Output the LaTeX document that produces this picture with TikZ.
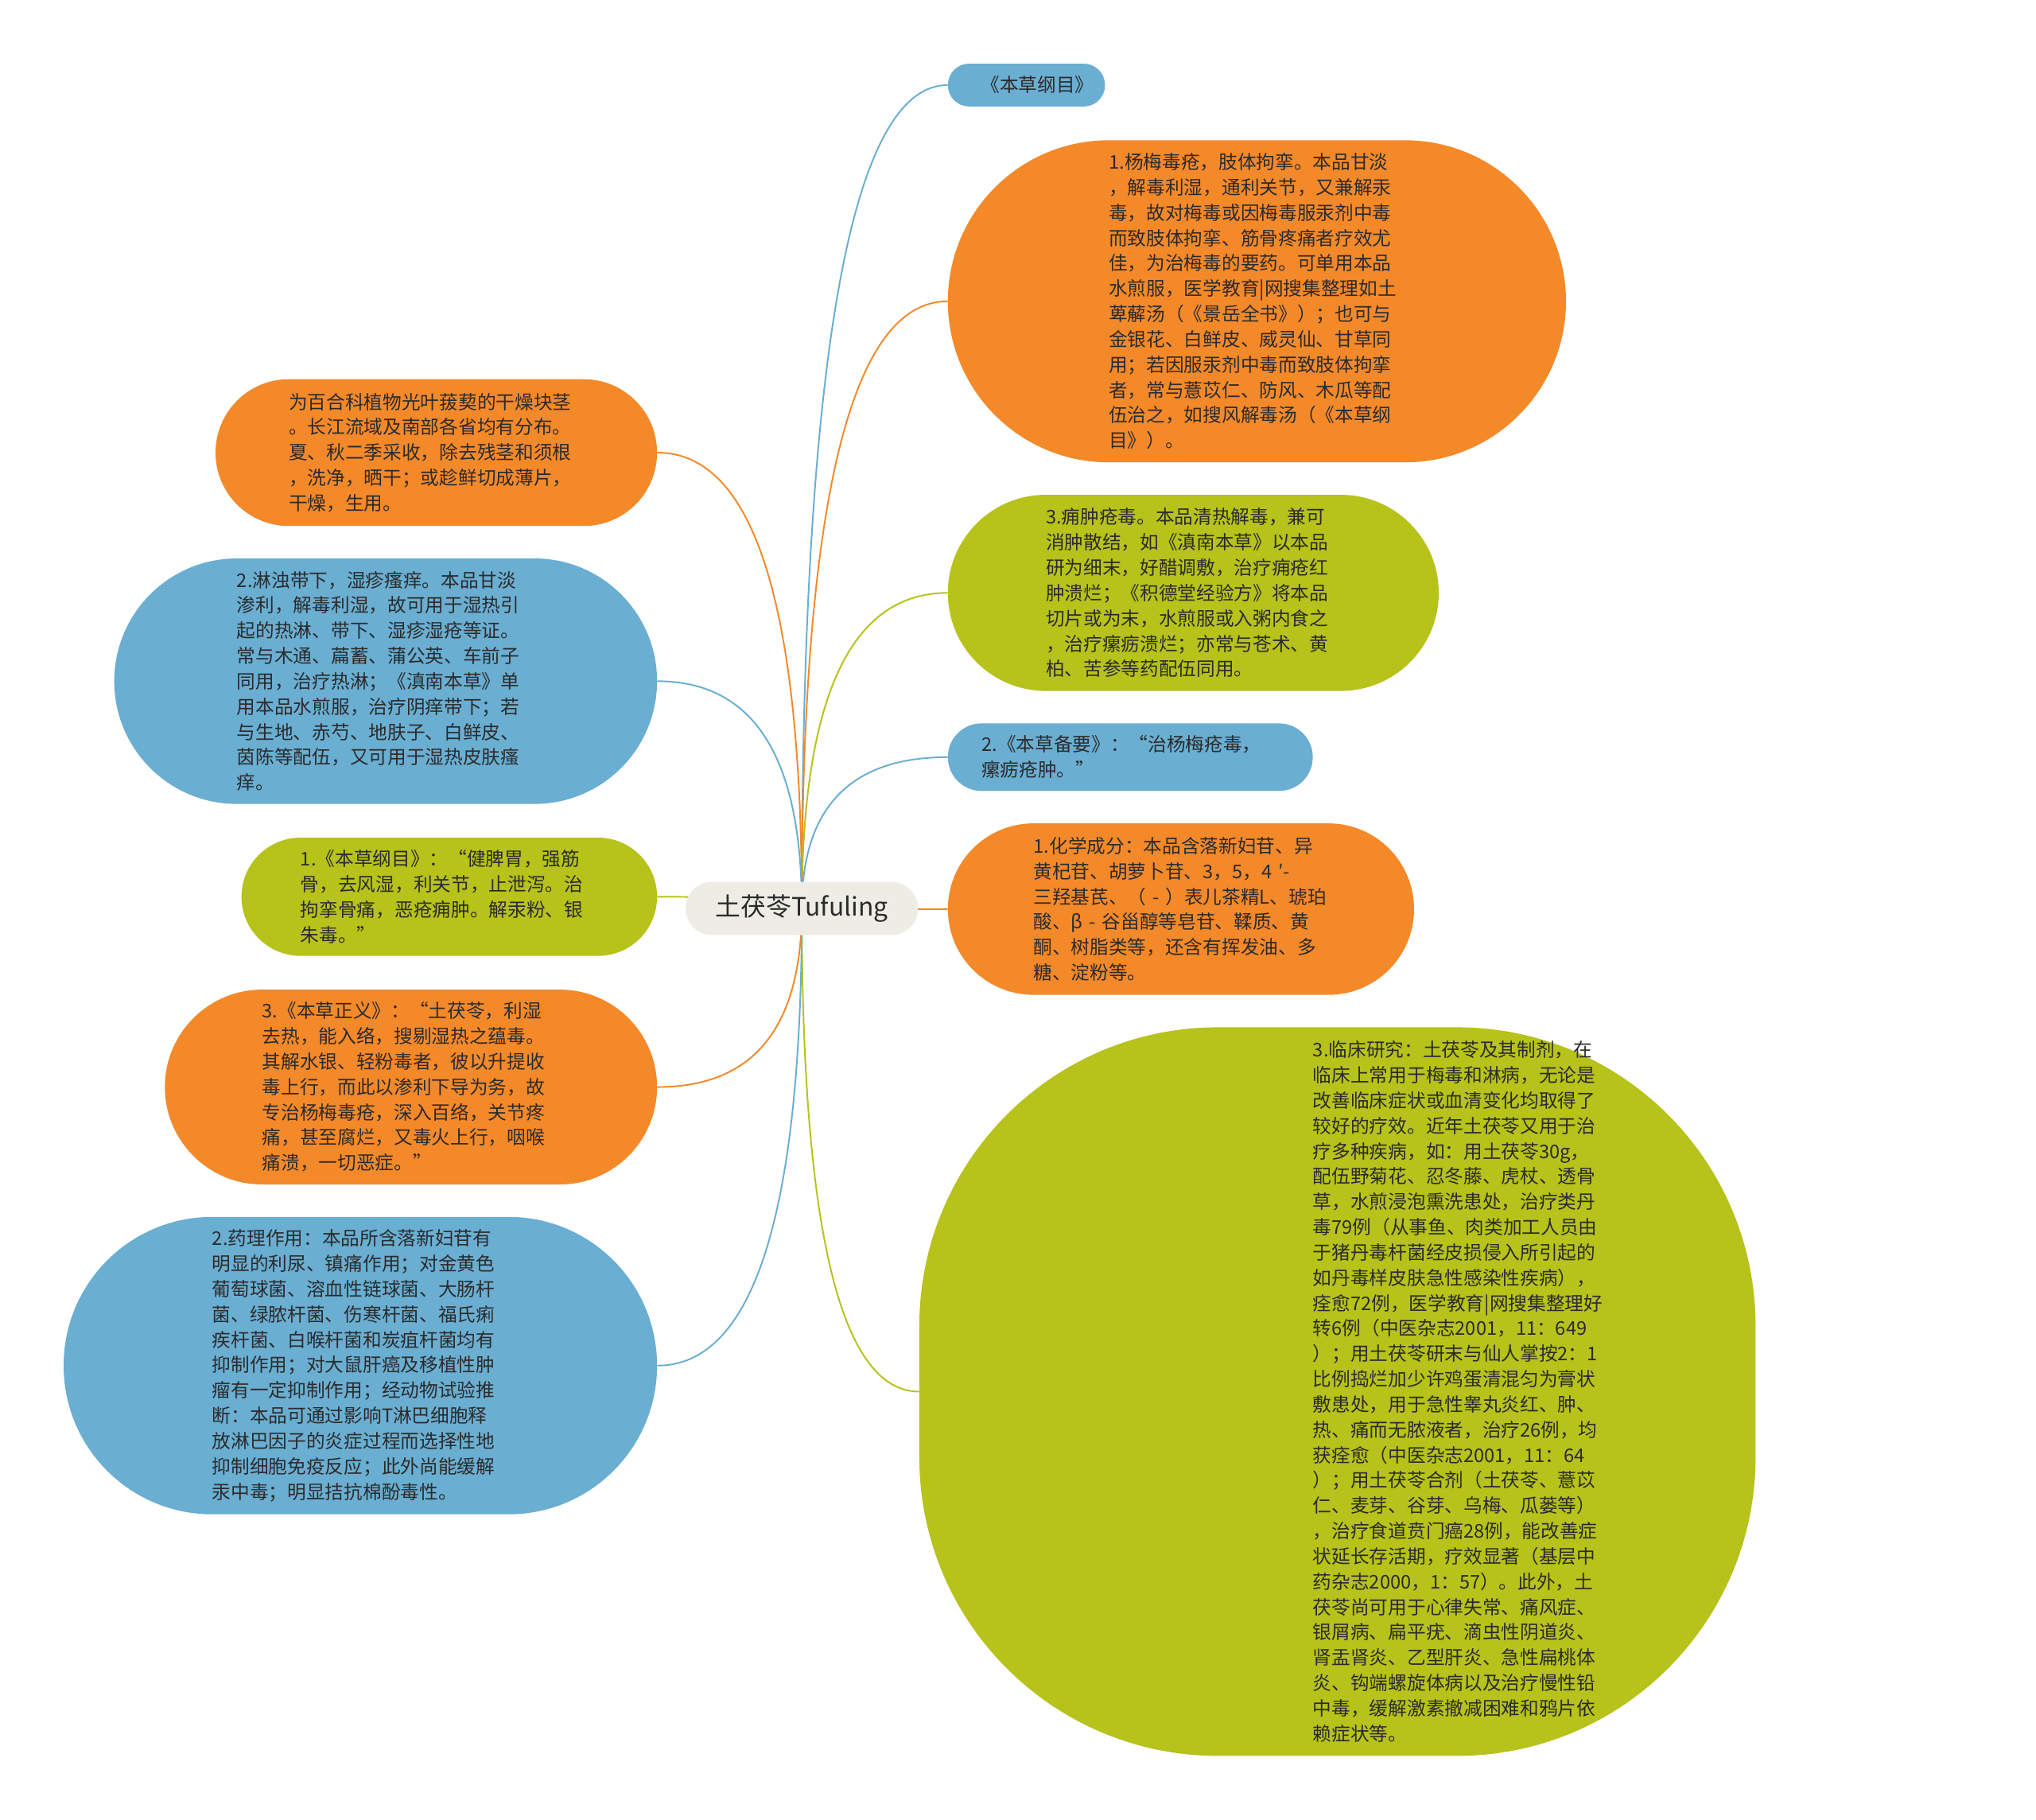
\documentclass[tikz,border=0pt]{standalone}
\usepackage{fontspec}
\setmainfont{Noto Sans CJK SC}
\usetikzlibrary{backgrounds,calc}
\definecolor{morange}{HTML}{F4892A}
\definecolor{mblue}{HTML}{6AAED2}
\definecolor{mgreen}{HTML}{B7C21A}
\definecolor{mroot}{HTML}{EEEDE5}
\definecolor{mtext}{HTML}{2B2B2B}
\begin{document}
\begin{tikzpicture}[x=1pt, y=-1pt, text=mtext,
    font=\fontsize{14.5}{19.5}\selectfont,
    bubble/.style n args={4}{shape=rectangle, fill=#1, draw=none, inner sep=0pt,
      align=left, minimum width=#2pt, minimum height=#3pt, text width=#4pt,
      rounded corners=#3pt/2-0.1pt},
    link/.style={draw=#1, line width=1.2pt,
      to path={.. controls ($(\tikztostart)!.667!(\tikztostart |- \tikztotarget)$)
        and ($(\tikztotarget)!.667!(\tikztostart |- \tikztotarget)$) .. (\tikztotarget)}}]

  % root
  \node [shape=rectangle, fill=mroot, inner sep=0pt, minimum width=179pt, minimum height=41pt,
         rounded corners=20.4pt, font=\fontsize{19.5}{24}\selectfont] (root) at (617.5,699.5) {土茯苓Tufuling};

  % right side
  \node [bubble={mblue}{121}{33}{70}, align=center] (kgm) at (790.5,65.5) {《本草纲目》};
  \node [bubble={morange}{476}{248}{228}] (ymdc) at (968,232) {1.杨梅毒疮，肢体拘挛。本品甘淡\\，解毒利湿，通利关节，又兼解汞\\毒，故对梅毒或因梅毒服汞剂中毒\\而致肢体拘挛、筋骨疼痛者疗效尤\\佳，为治梅毒的要药。可单用本品\\水煎服，医学教育|网搜集整理如土\\萆薢汤（《景岳全书》）；也可与\\金银花、白鲜皮、威灵仙、甘草同\\用；若因服汞剂中毒而致肢体拘挛\\者，常与薏苡仁、防风、木瓜等配\\伍治之，如搜风解毒汤（《本草纲\\目》）。};
  \node [bubble={mgreen}{378}{151}{227}] (yzcd) at (919,456.5) {3.痈肿疮毒。本品清热解毒，兼可\\消肿散结，如《滇南本草》以本品\\研为细末，好醋调敷，治疗痈疮红\\肿溃烂；《积德堂经验方》将本品\\切片或为末，水煎服或入粥内食之\\，治疗瘰疬溃烂；亦常与苍术、黄\\柏、苦参等药配伍同用。};
  \node [bubble={mblue}{281}{52}{229}] (bcby) at (870.5,583) {2.《本草备要》：“治杨梅疮毒，\\瘰疬疮肿。”};
  \node [bubble={morange}{359}{132}{227}] (hxcf) at (909.5,700) {1.化学成分：本品含落新妇苷、异\\黄杞苷、胡萝卜苷、3，5，4 ′-\\三羟基芪、（ - ）表儿茶精L、琥珀\\酸、β - 谷甾醇等皂苷、鞣质、黄\\酮、树脂类等，还含有挥发油、多\\糖、淀粉等。};
  \node [bubble={mgreen}{644}{561}{0}, rounded corners=230pt] (lcyj) at (1030,1071.5) {};
  \node [align=left, inner sep=0pt, text width=228pt, anchor=west] (lcyjtxt) at (1011,1071.5) {3.临床研究：土茯苓及其制剂，在\\临床上常用于梅毒和淋病，无论是\\改善临床症状或血清变化均取得了\\较好的疗效。近年土茯苓又用于治\\疗多种疾病，如：用土茯苓30g，\\配伍野菊花、忍冬藤、虎杖、透骨\\草，水煎浸泡熏洗患处，治疗类丹\\毒79例（从事鱼、肉类加工人员由\\于猪丹毒杆菌经皮损侵入所引起的\\如丹毒样皮肤急性感染性疾病），\\痊愈72例，医学教育|网搜集整理好\\转6例（中医杂志2001，11：649\\）；用土茯苓研末与仙人掌按2：1\\比例捣烂加少许鸡蛋清混匀为膏状\\敷患处，用于急性睾丸炎红、肿、\\热、痛而无脓液者，治疗26例，均\\获痊愈（中医杂志2001，11：64\\）；用土茯苓合剂（土茯苓、薏苡\\仁、麦芽、谷芽、乌梅、瓜蒌等）\\，治疗食道贲门癌28例，能改善症\\状延长存活期，疗效显著（基层中\\药杂志2000，1：57）。此外，土\\茯苓尚可用于心律失常、痛风症、\\银屑病、扁平疣、滴虫性阴道炎、\\肾盂肾炎、乙型肝炎、急性扁桃体\\炎、钩端螺旋体病以及治疗慢性铅\\中毒，缓解激素撤减困难和鸦片依\\赖症状等。};

  % left side
  \node [bubble={morange}{340}{113}{227}] (bhk) at (336,348.5) {为百合科植物光叶菝葜的干燥块茎\\。长江流域及南部各省均有分布。\\夏、秋二季采收，除去残茎和须根\\，洗净，晒干；或趁鲜切成薄片，\\干燥，生用。};
  \node [bubble={mblue}{418}{189}{229}] (lzdx) at (297,524.5) {2.淋浊带下，湿疹瘙痒。本品甘淡\\渗利，解毒利湿，故可用于湿热引\\起的热淋、带下、湿疹湿疮等证。\\常与木通、萹蓄、蒲公英、车前子\\同用，治疗热淋；《滇南本草》单\\用本品水煎服，治疗阴痒带下；若\\与生地、赤芍、地肤子、白鲜皮、\\茵陈等配伍，又可用于湿热皮肤瘙\\痒。};
  \node [bubble={mgreen}{320}{91}{229}] (kgmb) at (346,690.5) {1.《本草纲目》：“健脾胃，强筋\\骨，去风湿，利关节，止泄泻。治\\拘挛骨痛，恶疮痈肿。解汞粉、银\\朱毒。”};
  \node [bubble={morange}{379}{150}{229}] (bczy) at (316.5,837) {3.《本草正义》：“土茯苓，利湿\\去热，能入络，搜剔湿热之蕴毒。\\其解水银、轻粉毒者，彼以升提收\\毒上行，而此以渗利下导为务，故\\专治杨梅毒疮，深入百络，关节疼\\痛，甚至腐烂，又毒火上行，咽喉\\痛溃，一切恶症。”};
  \node [bubble={mblue}{457}{229}{228}] (ylzy) at (277.5,1051.5) {2.药理作用：本品所含落新妇苷有\\明显的利尿、镇痛作用；对金黄色\\葡萄球菌、溶血性链球菌、大肠杆\\菌、绿脓杆菌、伤寒杆菌、福氏痢\\疾杆菌、白喉杆菌和炭疽杆菌均有\\抑制作用；对大鼠肝癌及移植性肿\\瘤有一定抑制作用；经动物试验推\\断：本品可通过影响T淋巴细胞释\\放淋巴因子的炎症过程而选择性地\\抑制细胞免疫反应；此外尚能缓解\\汞中毒；明显拮抗棉酚毒性。};

  \begin{scope}[on background layer]
    \path [use as bounding box, fill=white] (0,0) rectangle (1568,1401);
    \draw [link=mblue] (root.center) to (kgm.west);
    \draw [link=morange] (root.center) to (ymdc.west);
    \draw [link=mgreen] (root.center) to (yzcd.west);
    \draw [link=mblue] (root.center) to (bcby.west);
    \draw [link=morange] (root.center) to (hxcf.west);
    \draw [link=mgreen] (root.center) to (lcyj.west);
    \draw [link=morange] (root.center) to (bhk.east);
    \draw [link=mblue] (root.center) to (lzdx.east);
    \draw [link=mgreen] (root.center) to (kgmb.east);
    \draw [link=morange] (root.center) to (bczy.east);
    \draw [link=mblue] (root.center) to (ylzy.east);
  \end{scope}
\end{tikzpicture}
\end{document}
